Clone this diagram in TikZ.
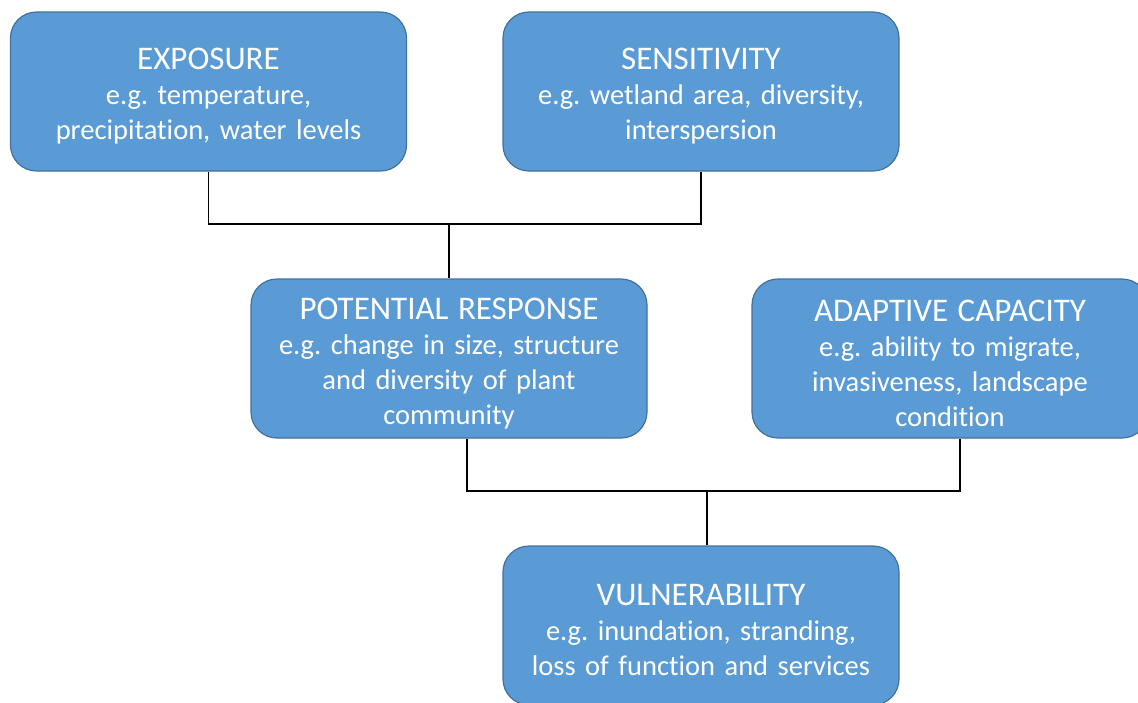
\documentclass[tikz,border=0pt]{standalone}
\usepackage{fontspec}
\setmainfont{Carlito}[Ligatures=CommonOff]
\usetikzlibrary{calc}
\definecolor{boxfill}{HTML}{5B9BD5}
\definecolor{boxedge}{HTML}{41719C}
\tikzset{
  box/.style={rectangle, rounded corners=26pt, fill=boxfill, draw=boxedge, line width=1.2pt,
    minimum width=396pt, minimum height=159pt, inner sep=0pt},
  boxtext/.style={text width=390pt, align=center, yshift=-5pt,
    text=white, inner sep=0pt, font=\fontsize{28.5}{35}\selectfont},
  link/.style={draw=black, line width=1.5pt},
}
\newcommand{\ttl}[1]{{\fontsize{33}{35}\selectfont #1}}
\frenchspacing
\begin{document}
\begin{tikzpicture}[x=1pt,y=-1pt]
\clip (0,0) rectangle (1138,702);
\fill[white] (0,0) rectangle (1138,702);
\node[box, label={[boxtext]center:{\ttl{EXPOSURE}\\e.g. temperature,\\precipitation, water levels}}] (exp) at (208.5,91.5) {};
\node[box, label={[boxtext]center:{\ttl{SENSITIVITY}\\e.g. wetland area, diversity,\\interspersion}}] (sen) at (701,91.5) {};
\node[box, label={[boxtext]center:{\ttl{POTENTIAL RESPONSE}\\e.g. change in size, structure\\and diversity of plant\\community}}] (pot) at (449,358.5) {};
\node[box, label={[boxtext]center:{\ttl{ADAPTIVE CAPACITY}\\e.g. ability to migrate,\\invasiveness, landscape\\condition}}] (ada) at (950,358.5) {};
\node[box, label={[boxtext]center:{\ttl{VULNERABILITY}\\e.g. inundation, stranding,\\loss of function and services}}] (vul) at (701,625.5) {};
\coordinate (j1) at (449,224);
\coordinate (j2) at (707,491);
\draw[link] (exp.south) |- (j1) -| (sen.south);
\draw[link] (j1) -- (pot.north);
\draw[link] ($(pot.south)+(18,0)$) |- (j2) -| ($(ada.south)+(10,0)$);
\draw[link] (j2) -- ($(vul.north)+(6,0)$);
\end{tikzpicture}
\end{document}
